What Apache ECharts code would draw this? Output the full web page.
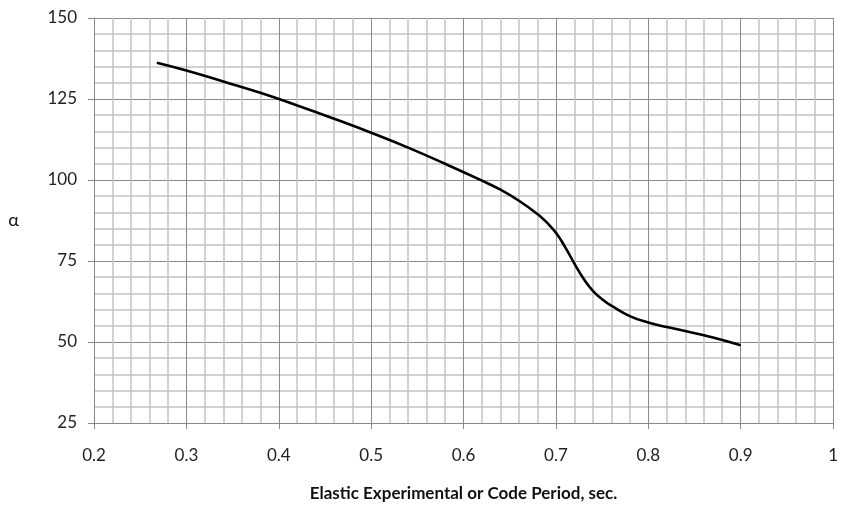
<!DOCTYPE html>
<html>
<head>
<meta charset="utf-8">
<style>
  html, body { margin: 0; padding: 0; background: #fff; }
  #chart { width: 841px; height: 507px; }
</style>
<script src="https://cdn.jsdelivr.net/npm/echarts@6/dist/echarts.min.js"></script>
</head>
<body>
<div id="chart"></div>
<script>
  // period (sec) vs alpha
  let periods = [0.268, 0.3, 0.34, 0.38, 0.42, 0.46, 0.5, 0.54, 0.58, 0.62, 0.64, 0.66,
    0.68, 0.69, 0.70, 0.71, 0.72, 0.73, 0.74, 0.75, 0.76, 0.78, 0.80, 0.82, 0.84, 0.87, 0.90]
  let alphas = [136.2, 133.8, 130.4, 126.9, 123.0, 118.9, 114.6, 110.0, 105.0, 99.8, 97.0, 93.6,
    89.5, 86.9, 83.7, 79.3, 74.2, 69.5, 65.8, 63.2, 61.2, 58.0, 56.0, 54.6, 53.4, 51.4, 49.0]

  let xTitle = 'Elastic Experimental or Code Period, sec.'
  let yTitle = 'α'

  let font = 'Lato, "Noto Sans", sans-serif'
  let chart = echarts.init(document.getElementById('chart'))

  let data = periods.map((p, i) => [p, alphas[i]])

  let option = {
    animation: false,
    grid: { left: 94, right: 2, top: 18, bottom: 79, containLabel: false },
    xAxis: {
      type: 'value',
      min: 0.2,
      max: 1,
      interval: 0.1,
      name: xTitle,
      nameLocation: 'middle',
      nameGap: 62,
      nameTextStyle: { fontFamily: font, fontSize: 17, fontWeight: 'bold', color: '#111' },
      axisLine: { show: true, lineStyle: { color: '#888', width: 1 } },
      axisTick: { show: true, length: 6, lineStyle: { color: '#888' } },
      axisLabel: { margin: 24, fontFamily: font, fontSize: 17, color: '#222' },
      splitLine: { show: true, lineStyle: { color: '#8a8a8a', width: 1 } },
      minorTick: { show: false, splitNumber: 5 },
      minorSplitLine: { show: true, lineStyle: { color: '#c4c4c4', width: 1.5 } }
    },
    yAxis: {
      type: 'value',
      min: 25,
      max: 150,
      interval: 25,
      name: yTitle,
      nameLocation: 'middle',
      nameRotate: 0,
      nameGap: 75,
      nameTextStyle: { fontFamily: font, fontSize: 18, color: '#111' },
      axisLine: { show: true, lineStyle: { color: '#888', width: 1 } },
      axisTick: { show: true, length: 6, lineStyle: { color: '#888' } },
      axisLabel: { margin: 17, fontFamily: font, fontSize: 17, color: '#222' },
      splitLine: { show: true, lineStyle: { color: '#8a8a8a', width: 1 } },
      minorTick: { show: false, splitNumber: 5 },
      minorSplitLine: { show: true, lineStyle: { color: '#c4c4c4', width: 1.5 } }
    },
    series: [{
      type: 'line',
      data: data,
      smooth: 0.5,
      symbol: 'none',
      lineStyle: { color: '#000', width: 2.6 }
    }]
  }
  chart.setOption(option)
</script>
</body>
</html>
